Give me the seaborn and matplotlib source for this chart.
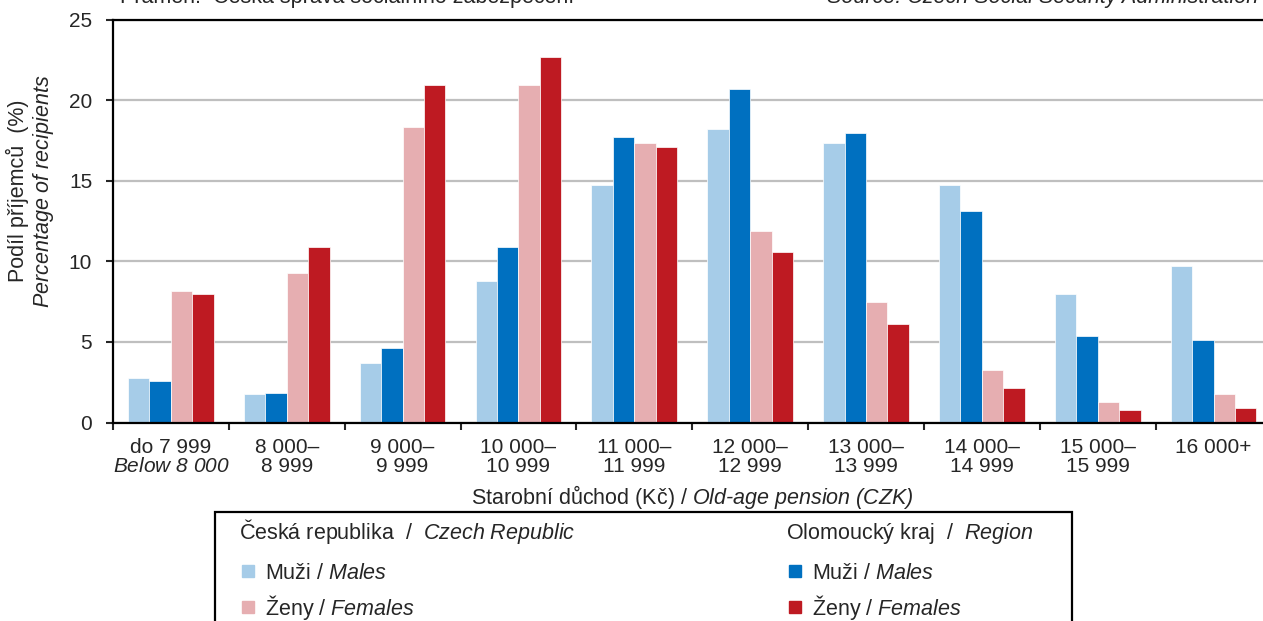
import matplotlib
matplotlib.use("Agg")
import matplotlib.pyplot as plt
import seaborn as sns
import pandas as pd
from matplotlib.lines import Line2D
from matplotlib.patches import Rectangle

categories = ["do 7 999\n$\\mathsf{Below\\ 8\\ 000}$", "8 000–\n8 999", "9 000–\n9 999",
              "10 000–\n10 999", "11 000–\n11 999", "12 000–\n12 999", "13 000–\n13 999",
              "14 000–\n14 999", "15 000–\n15 999", "16 000+\n "]
cr_males = [2.75, 1.75, 3.7, 8.8, 14.75, 18.2, 17.35, 14.75, 7.95, 9.7]
ol_males = [2.6, 1.85, 4.6, 10.9, 17.7, 20.7, 17.95, 13.15, 5.35, 5.1]
cr_females = [8.15, 9.3, 18.35, 20.95, 17.35, 11.9, 7.45, 3.25, 1.25, 1.75]
ol_females = [7.95, 10.9, 20.95, 22.7, 17.1, 10.55, 6.1, 2.15, 0.8, 0.9]
series = ["CR muži", "OK muži", "CR ženy", "OK ženy"]
colors = ["#a6cce8", "#0070c0", "#e6aeb1", "#be1a22"]

legend_labels = ["Muži / $\\mathsf{Males}$", "Ženy / $\\mathsf{Females}$"]
header_cr = "Česká republika  /  $\\mathsf{Czech\\ Republic}$"
header_ok = "Olomoucký kraj  /  $\\mathsf{Region}$"

df = pd.DataFrame({
    "kat": categories * 4,
    "serie": [s for s in series for _ in categories],
    "hodnota": cr_males + ol_males + cr_females + ol_females,
})

sns.set_style("white")
plt.rcParams["font.family"] = ["Liberation Sans", "DejaVu Sans"]
plt.rcParams["mathtext.fontset"] = "custom"
plt.rcParams["mathtext.rm"] = "Liberation Sans"
plt.rcParams["mathtext.it"] = "Liberation Sans:italic"
plt.rcParams["mathtext.sf"] = "Liberation Sans:italic"
FS = 15.5
TS = 15

W, H = 1263, 621
fig = plt.figure(figsize=(W / 100, H / 100), dpi=100)
ax = fig.add_axes([113 / W, 1 - 422.5 / H, (1271.5 - 113) / W, (422.5 - 19.5) / H])

sns.barplot(data=df, x="kat", y="hodnota", hue="serie", hue_order=series,
            palette=colors, width=0.74, saturation=1, legend=False,
            edgecolor="white", linewidth=0.5, ax=ax)

ax.set_ylim(0, 25)
ax.set_xlim(-0.5, len(categories) - 0.5)
ax.set_yticks(range(0, 26, 5))
ax.yaxis.grid(True, color="#bfbfbf", linewidth=1.6)
ax.set_axisbelow(True)
for side in ["left", "bottom", "top"]:
    ax.spines[side].set_visible(True)
    ax.spines[side].set_color("black")
    ax.spines[side].set_linewidth(1.6)
ax.spines["right"].set_visible(False)

ax.set_xticks([i - 0.5 for i in range(len(categories) + 1)], minor=True)
ax.tick_params(axis="x", which="minor", length=5, width=1.5, direction="out", bottom=True)
ax.tick_params(axis="x", which="major", length=0, pad=11, labelsize=TS)
ax.tick_params(axis="y", length=5, width=1.5, direction="out", left=True, pad=10, labelsize=TS)
for lab in ax.get_xticklabels():
    lab.set_linespacing(1.0)

ax.set_ylabel("")
ax.set_xlabel("Starobní důchod (Kč) / $\\mathsf{Old\u2010age\\ pension\\ (CZK)}$",
              fontsize=FS, labelpad=5)

fig.text(31 / W, 1 - 191 / H, "Podíl příjemců  (%)\n$\\mathsf{Percentage\\ of\\ recipients}$",
         rotation=90, ha="center", va="center", fontsize=FS, linespacing=1.1)

fig.text(120 / W, 1 - 3 / H, "Pramen:  Česká správa sociálního zabezpečení",
         ha="left", va="baseline", fontsize=FS)
fig.text(1258 / W, 1 - 3 / H, "Source: Czech Social Security Administration",
         ha="right", va="baseline", fontsize=FS, style="italic")

# legend: one frame, two columns, each with a header line
fig.text(239 / W, 1 - 539 / H, header_cr, ha="left", va="baseline", fontsize=FS)
fig.text(786 / W, 1 - 539 / H, header_ok, ha="left", va="baseline", fontsize=FS)
common = dict(loc="upper left", frameon=False, handlelength=0.85, handletextpad=0.35,
              borderpad=0, borderaxespad=0, labelspacing=0.41, fontsize=FS, numpoints=1)
for x0, cols in [(239, colors[0::2]), (786, colors[1::2])]:
    handles = [Line2D([], [], ls="none", marker="s", markersize=8, color=c) for c in cols]
    fig.legend(handles, legend_labels, bbox_to_anchor=(x0 / W, 1 - 563 / H), **common)
fig.add_artist(Rectangle((215 / W, -0.1), (1072 - 215) / W, 0.1 + 1 - 511.7 / H,
                         transform=fig.transFigure, fill=False, edgecolor="black", linewidth=1.6))

fig.savefig("out.png", dpi=100)
